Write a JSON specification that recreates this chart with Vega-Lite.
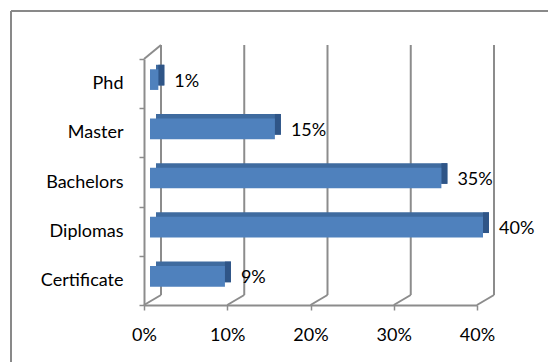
{
  "$schema": "https://vega.github.io/schema/vega-lite/v6.json",
  "width": 537,
  "height": 351,
  "autosize": {"type": "none"},
  "padding": {"left": 11, "top": 11, "right": 0, "bottom": 0},
  "background": "white",
  "config": {
    "view": {"stroke": "#898989", "strokeWidth": 2, "strokeDash": [537, 888, 351, 0]},
    "font": "Lato",
    "text": {"font": "Lato"}
  },
  "layer": [
    {
      "layer": [
        {
          "data": {"values": [{"tick": 0}, {"tick": 0.1}, {"tick": 0.2}, {"tick": 0.3}, {"tick": 0.4}]},
          "mark": {"type": "rule", "color": "#8c8c8c", "strokeWidth": 2, "xOffset": 17, "yOffset": -10, "y2Offset": -14},
          "encoding": {
            "x": {"field": "tick", "type": "quantitative", "title": null},
            "y": {"datum": 0, "type": "quantitative", "scale": {"domain": [0, 1], "range": [294, 48]}, "axis": null},
            "y2": {"datum": 1}
          }
        },
        {
          "data": {"values": [{"tick": 0}, {"tick": 0.1}, {"tick": 0.2}, {"tick": 0.3}, {"tick": 0.4}]},
          "mark": {"type": "rule", "color": "#8c8c8c", "strokeWidth": 2, "x2Offset": 17, "y2Offset": -10},
          "encoding": {
            "x": {"field": "tick", "type": "quantitative", "title": null},
            "x2": {"field": "tick"},
            "y": {"datum": 0, "type": "quantitative"},
            "y2": {"datum": 0}
          }
        },
        {
          "data": {"values": [{"tick": 0}]},
          "mark": {"type": "rule", "color": "#8c8c8c", "strokeWidth": 2, "x2Offset": 17, "y2Offset": -14},
          "encoding": {
            "x": {"field": "tick", "type": "quantitative", "title": null},
            "x2": {"field": "tick"},
            "y": {"datum": 1, "type": "quantitative"},
            "y2": {"datum": 1}
          }
        }
      ]
    },
    {
      "data": {"values": [
        {"level": "Phd", "share": 0.01},
        {"level": "Master", "share": 0.15},
        {"level": "Bachelors", "share": 0.35},
        {"level": "Diplomas", "share": 0.40},
        {"level": "Certificate", "share": 0.09}
      ]},
      "encoding": {
        "y": {
          "field": "level",
          "type": "nominal",
          "sort": ["Phd", "Master", "Bachelors", "Diplomas", "Certificate"],
          "scale": {"range": [48, 294], "paddingInner": 0, "paddingOuter": 0},
          "axis": {
            "orient": "left",
            "title": null,
            "offset": -133,
            "tickBand": "extent",
            "tickSize": 5,
            "tickColor": "#8c8c8c",
            "tickWidth": 1.5,
            "domainColor": "#8c8c8c",
            "domainWidth": 2,
            "labelPadding": 16,
            "labelFont": "Lato",
            "labelFontSize": 18,
            "labelColor": "#000000",
            "grid": false
          }
        }
      },
      "layer": [
        {
          "mark": {"type": "bar", "color": "#3f6b9f", "height": {"band": 0.42}, "xOffset": 12, "x2Offset": 12, "yOffset": -8.5},
          "encoding": {
            "x": {
              "field": "share",
              "type": "quantitative",
              "scale": {"domain": [0, 0.4], "range": [133, 466], "nice": false},
              "axis": {
                "title": null,
                "offset": -57,
                "values": [0, 0.1, 0.2, 0.3, 0.4],
                "format": ".0%",
                "tickSize": 5,
                "tickColor": "#8c8c8c",
                "tickWidth": 1.5,
                "domainColor": "#8c8c8c",
                "domainWidth": 2,
                "labelPadding": 16,
                "labelFont": "Lato",
                "labelFontSize": 18,
                "labelColor": "#000000",
                "labelFlush": false,
                "grid": false
              }
            }
          }
        },
        {
          "mark": {"type": "bar", "color": "#2f5587", "height": {"band": 0.42}, "xOffset": 12, "x2Offset": 6, "yOffset": -8.5},
          "encoding": {
            "x": {"field": "share", "type": "quantitative"},
            "x2": {"field": "share"}
          }
        },
        {
          "mark": {"type": "bar", "color": "#4f81bd", "height": {"band": 0.42}, "xOffset": 6, "x2Offset": 6, "yOffset": -4},
          "encoding": {
            "x": {"field": "share", "type": "quantitative"}
          }
        },
        {
          "mark": {"type": "text", "align": "left", "baseline": "middle", "xOffset": 22, "yOffset": -2, "fontSize": 18, "font": "Lato", "color": "#000000"},
          "encoding": {
            "x": {"field": "share", "type": "quantitative"},
            "text": {"field": "share", "type": "quantitative", "format": ".0%"}
          }
        }
      ]
    }
  ],
  "resolve": {"scale": {"y": "independent"}}
}
